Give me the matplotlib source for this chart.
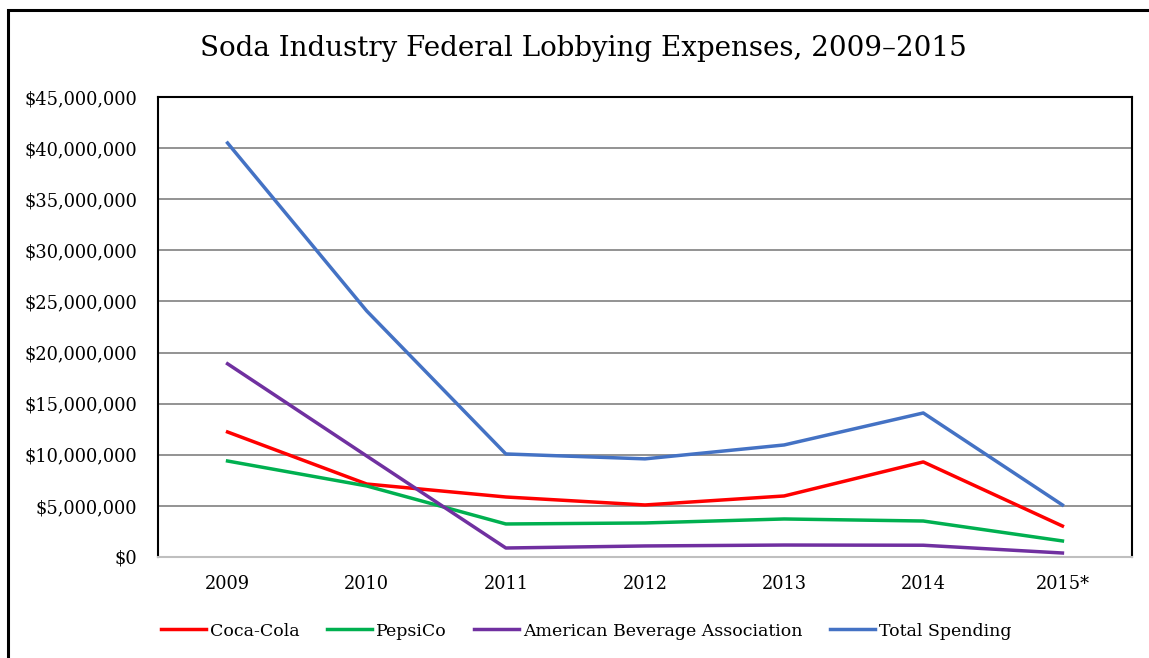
import matplotlib.pyplot as plt
from matplotlib.patches import Rectangle
from matplotlib.ticker import FuncFormatter

years = ["2009", "2010", "2011", "2012", "2013", "2014", "2015*"]
coca_cola = [12.23e6, 7.14e6, 5.87e6, 5.09e6, 5.97e6, 9.3e6, 3.03e6]
pepsico = [9.39e6, 6.95e6, 3.23e6, 3.33e6, 3.72e6, 3.52e6, 1.57e6]
aba = [18.9e6, 9.88e6, 0.88e6, 1.08e6, 1.17e6, 1.15e6, 0.39e6]
total = [40.5e6, 24.07e6, 10.08e6, 9.6e6, 10.96e6, 14.09e6, 5.09e6]

plt.rcParams['font.family'] = ['DejaVu Serif']

fig = plt.figure(figsize=(11.49, 6.58), dpi=100)
ax = fig.add_axes([0.1375, 0.1535, 0.8477, 0.6991])

x = range(len(years))
ax.plot(x, coca_cola, color="#FF0000", lw=2.5, label="Coca-Cola")
ax.plot(x, pepsico, color="#00B050", lw=2.5, label="PepsiCo")
ax.plot(x, aba, color="#7030A0", lw=2.5, label="American Beverage Association")
ax.plot(x, total, color="#4472C4", lw=2.5, label="Total Spending")

ax.set_xlim(-0.5, 6.5)
ax.set_ylim(0, 45e6)
ax.set_yticks([i * 5e6 for i in range(10)])
ax.yaxis.set_major_formatter(FuncFormatter(lambda v, p: f"${v:,.0f}"))
ax.set_xticks(list(x))
ax.set_xticklabels(years)
ax.tick_params(length=0, labelsize=12.8)
ax.tick_params(axis="x", pad=13)
ax.tick_params(axis="y", pad=15)
ax.grid(axis="y", color="#808080", lw=1.2)
ax.set_axisbelow(True)
for s in ["left", "top", "right"]:
    ax.spines[s].set_color("black")
    ax.spines[s].set_linewidth(1.5)
ax.spines["bottom"].set_color("#BFBFBF")
ax.spines["bottom"].set_linewidth(1.5)

fig.text(0.508, 0.927, "Soda Industry Federal Lobbying Expenses, 2009\u20132015",
         ha="center", va="center", fontsize=20)

fig.legend(loc="center", bbox_to_anchor=(0.51, 0.041), ncol=4, frameon=False,
           fontsize=12.5, handlelength=2.6, handletextpad=0.2, columnspacing=1.6)

fig.patches.append(Rectangle((8 / 1149, -0.1), 1.2, (648 / 658) + 0.1,
                             transform=fig.transFigure, fill=False,
                             edgecolor="black", lw=2.2))

fig.savefig("out.png", dpi=100)
